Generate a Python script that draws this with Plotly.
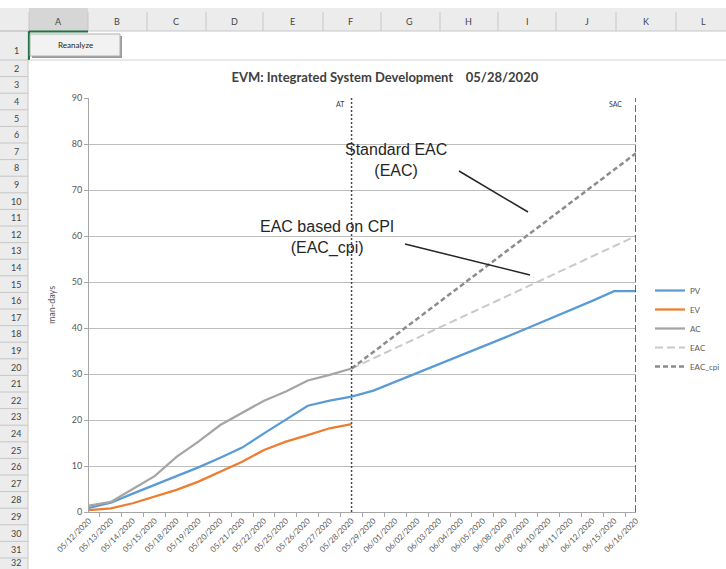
import plotly.graph_objects as go

dates = ["05/12/2020", "05/13/2020", "05/14/2020", "05/15/2020", "05/18/2020",
         "05/19/2020", "05/20/2020", "05/21/2020", "05/22/2020", "05/25/2020",
         "05/26/2020", "05/27/2020", "05/28/2020", "05/29/2020", "06/01/2020",
         "06/02/2020", "06/03/2020", "06/04/2020", "06/05/2020", "06/08/2020",
         "06/09/2020", "06/10/2020", "06/11/2020", "06/12/2020", "06/15/2020",
         "06/16/2020"]

pv = [0.9, 2.0, 4.0, 5.9, 7.7, 9.7, 11.8, 14.0, 17.1, 20.1, 23.1, 24.2, 25.1,
      26.4, 28.3, 30.3, 32.2, 34.0, 35.9, 37.9, 39.9, 41.9, 43.8, 45.9, 48.0, 48.0]
ev = [0.4, 0.8, 1.9, 3.3, 4.8, 6.6, 8.8, 10.9, 13.5, 15.3, 16.7, 18.2, 19.1]
ac = [1.4, 2.2, 5.0, 7.8, 12.0, 15.3, 18.9, 21.5, 24.2, 26.2, 28.6, 29.8, 31.2]

at_date = "05/28/2020"
sac_date = "06/16/2020"
eac_dates = [at_date, sac_date]
eac_light = [31.2, 60.0]   # shallow forecast line
eac_dark = [31.2, 78.0]    # steep forecast line

columns = ["A", "B", "C", "D", "E", "F", "G", "H", "I", "J", "K", "L"]
col_x = [58, 117, 176, 234, 292, 350, 409, 468, 527, 587, 646, 703]
col_edges = [29, 88, 147, 206, 263, 323, 381, 440, 498, 556, 616, 676]
rows = [str(n) for n in range(1, 33)]

W, H = 726, 569
ML, MR, MT, MB = 89, 90, 98, 57
PW = W - ML - MR
PH = H - MT - MB


def px(x):
    return (x - ML) / PW


def py(y):
    return (H - MB - y) / PH


def label(x, y, text, size, color="#444444", xanchor="center", family=None):
    f = dict(size=size, color=color)
    if family:
        f["family"] = family
    return dict(xref="paper", yref="paper", x=px(x), y=py(y), text=text,
                showarrow=False, xanchor=xanchor, yanchor="middle", font=f)


fig = go.Figure()

fig.add_trace(go.Scatter(x=dates, y=pv, mode="lines", name="PV",
                         line=dict(color="#5b9bd5", width=2.25)))
fig.add_trace(go.Scatter(x=dates[:len(ev)], y=ev, mode="lines", name="EV",
                         line=dict(color="#ed7d31", width=2.25)))
fig.add_trace(go.Scatter(x=dates[:len(ac)], y=ac, mode="lines", name="AC",
                         line=dict(color="#a5a5a5", width=2.25)))
fig.add_trace(go.Scatter(x=eac_dates, y=eac_light, mode="lines", name="EAC",
                         line=dict(color="#c9c9c9", width=2, dash="8px,4px")))
fig.add_trace(go.Scatter(x=eac_dates, y=eac_dark, mode="lines", name="EAC_cpi",
                         line=dict(color="#8c8c8c", width=2.5, dash="5px,3px")))

# AT / SAC markers
fig.add_trace(go.Scatter(x=[at_date, at_date], y=[0, 90], mode="lines",
                         showlegend=False,
                         line=dict(color="#4a4a4a", width=1.5, dash="2px,2px")))
fig.add_trace(go.Scatter(x=[sac_date, sac_date], y=[0, 90], mode="lines",
                         showlegend=False,
                         line=dict(color="#3a3a3a", width=1.5, dash="7px,3px")))

shapes = []
annos = []

# spreadsheet frame
shapes.append(dict(type="rect", xref="paper", yref="paper", x0=px(0), x1=px(W),
                   y0=py(8), y1=py(31), fillcolor="#ececec", line=dict(width=0), layer="below"))
shapes.append(dict(type="rect", xref="paper", yref="paper", x0=px(0), x1=px(28),
                   y0=py(8), y1=py(H), fillcolor="#ececec", line=dict(width=0), layer="below"))
shapes.append(dict(type="rect", xref="paper", yref="paper", x0=px(29), x1=px(88),
                   y0=py(8), y1=py(31), fillcolor="#d6d6d6", line=dict(width=0), layer="below"))
for e in col_edges:
    shapes.append(dict(type="line", xref="paper", yref="paper", x0=px(e), x1=px(e),
                       y0=py(12), y1=py(31), line=dict(color="#c6c6c6", width=1)))
shapes.append(dict(type="line", xref="paper", yref="paper", x0=px(0), x1=px(W),
                   y0=py(31), y1=py(31), line=dict(color="#c6c6c6", width=1)))
shapes.append(dict(type="line", xref="paper", yref="paper", x0=px(28), x1=px(28),
                   y0=py(31), y1=py(H), line=dict(color="#c6c6c6", width=1)))
shapes.append(dict(type="line", xref="paper", yref="paper", x0=px(29), x1=px(88),
                   y0=py(31.5), y1=py(31.5), line=dict(color="#217346", width=2)))
shapes.append(dict(type="line", xref="paper", yref="paper", x0=px(29), x1=px(29),
                   y0=py(31), y1=py(60), line=dict(color="#217346", width=2)))
shapes.append(dict(type="line", xref="paper", yref="paper", x0=px(29), x1=px(W),
                   y0=py(60), y1=py(60), line=dict(color="#d4d4d4", width=1)))
for i, r in enumerate(rows):
    if i == 0:
        top, yc = 31, 51
    else:
        top = 60 + (i - 1) * 16.6
        yc = top + 8.3
    shapes.append(dict(type="line", xref="paper", yref="paper", x0=px(0), x1=px(28),
                       y0=py(top), y1=py(top), line=dict(color="#c6c6c6", width=1)))
    annos.append(label(16, min(yc, 562), r, 9))
for c, x in zip(columns, col_x):
    annos.append(label(x, 21, c, 9))

# Reanalyze button
shapes.append(dict(type="rect", xref="paper", yref="paper", x0=px(32), x1=px(122),
                   y0=py(36), y1=py(58), fillcolor="#9a9a9a", line=dict(width=0)))
shapes.append(dict(type="rect", xref="paper", yref="paper", x0=px(30), x1=px(120),
                   y0=py(34), y1=py(56), fillcolor="#f2f2f2",
                   line=dict(color="#b0b0b0", width=1)))
annos.append(label(75, 45, "Reanalyze", 8, "#222222"))

# callouts
annos.append(label(396, 160, "Standard EAC<br>(EAC)", 16, "#262626",
                   family="Liberation Sans"))
annos.append(label(327, 237, "EAC based on CPI<br>(EAC_cpi)", 16, "#262626",
                   family="Liberation Sans"))
shapes.append(dict(type="line", xref="paper", yref="paper", x0=px(459), y0=py(171),
                   x1=px(528), y1=py(212), line=dict(color="#262626", width=1.5)))
shapes.append(dict(type="line", xref="paper", yref="paper", x0=px(405), y0=py(244),
                   x1=px(530), y1=py(275), line=dict(color="#262626", width=1.5)))

annos.append(label(347, 104, "AT", 7, "#404040", xanchor="right"))
annos.append(label(624, 104, "SAC", 7, "#404040", xanchor="right"))

fig.update_layout(
    width=W, height=H,
    margin=dict(l=ML, r=MR, t=MT, b=MB, autoexpand=False),
    paper_bgcolor="white", plot_bgcolor="white",
    font=dict(family="Lato, Liberation Sans, sans-serif", color="#595959"),
    title=dict(text="<b>EVM: Integrated System Development    05/28/2020</b>",
               x=px(379), xanchor="center", y=1 - 77 / H, yanchor="middle",
               font=dict(family="Lato, Liberation Sans, sans-serif", size=13, color="#404040")),
    showlegend=True,
    legend=dict(x=px(650), y=py(276), xanchor="left", yanchor="top",
                font=dict(size=8, color="#595959"), bgcolor="rgba(0,0,0,0)",
                tracegroupgap=0),
    shapes=shapes,
    annotations=annos,
)

fig.update_xaxes(type="category", categoryorder="array", categoryarray=dates,
                 tickson="boundaries", ticks="outside", ticklen=4, tickcolor="#a6a6a6",
                 tickangle=-45, tickfont=dict(size=8, color="#595959"),
                 showline=True, linecolor="#a6a6a6", linewidth=1,
                 showgrid=False, zeroline=False, fixedrange=True)
fig.update_yaxes(range=[0, 90], dtick=10, ticks="outside", ticklen=4,
                 tickcolor="#a6a6a6", tickfont=dict(size=9, color="#595959"),
                 showline=True, linecolor="#a6a6a6", linewidth=1,
                 showgrid=True, gridcolor="#bdbdbd", gridwidth=1, zeroline=False,
                 title=dict(text="man-days", font=dict(size=9, color="#595959"), standoff=14))

# page body has a default 8px margin; drop it so the figure fills the window
fig.write_html("out.html", config={"displayModeBar": False},
               post_script="document.body.style.margin='0';")
